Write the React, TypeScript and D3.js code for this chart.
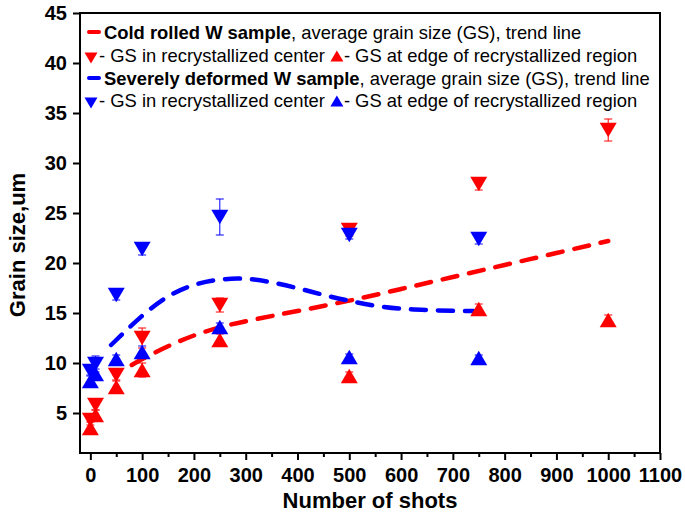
import { useEffect, useRef } from 'react';
import * as d3 from 'd3';

// shots for each series
const shotsRed = [0, 10, 50, 100, 250, 500, 750, 1000];
const shotsBlue = [0, 10, 50, 100, 250, 500, 750];

// cold rolled W sample
const redCenter = [4.3, 5.8, 8.8, 12.5, 15.8, 23.3, 27.9, 33.3];
const redCenterErr = [0.5, 0.5, 0.5, 1.0, 0.7, 0.6, 0.6, 1.1];
const redEdge = [3.5, 4.8, 7.6, 9.3, 12.3, 8.7, 15.4, 14.3];
const redEdgeErr = [0.6, 0.5, 0.6, 0.7, 0.6, 0.4, 0.5, 0.5];

// severely deformed W sample
const blueCenter = [9.2, 9.9, 16.8, 21.4, 24.6, 22.8, 22.4];
const blueCenterErr = [0.5, 0.8, 0.5, 0.6, 1.8, 0.4, 0.5];
const blueEdge = [8.2, 8.9, 10.4, 11.1, 13.6, 10.6, 10.5];
const blueEdgeErr = [0.6, 0.5, 0.4, 0.6, 0.4, 0.3, 0.3];

// trend lines
const redTrendX = [80, 100, 150, 200, 250, 300, 400, 500, 600, 700, 800, 900, 1000];
const redTrendY = [9.8, 10.4, 11.7, 12.8, 13.6, 14.2, 15.2, 16.2, 17.4, 18.6, 19.8, 21.0, 22.2];
const blueTrendX = [40, 100, 150, 200, 250, 300, 350, 400, 450, 500, 550, 600, 650, 700, 740];
const blueTrendY = [11.8, 14.8, 16.8, 17.9, 18.4, 18.5, 18.1, 17.5, 16.8, 16.2, 15.7, 15.4, 15.3, 15.2, 15.2];

const xTicks = [0, 100, 200, 300, 400, 500, 600, 700, 800, 900, 1000, 1100];
const yTicks = [5, 10, 15, 20, 25, 30, 35, 40, 45];

const RED = '#ff0000';
const BLUE = '#0000ff';
const FONT = 'Liberation Sans, Arial, sans-serif';

const App = () => {
  const svgRef = useRef(null);

  useEffect(() => {
    const width = 685;
    const height = 516;
    const margin = { top: 13, right: 25, bottom: 63, left: 80 };

    const svg = d3.select(svgRef.current)
      .attr('width', width)
      .attr('height', height);
    svg.selectAll('*').remove();

    const x = d3.scaleLinear().domain([-20, 1100]).range([margin.left, width - margin.right]);
    const y = d3.scaleLinear().domain([1, 45]).range([height - margin.bottom, margin.top]);

    // frame
    svg.append('rect')
      .attr('x', margin.left).attr('y', margin.top)
      .attr('width', width - margin.right - margin.left)
      .attr('height', height - margin.bottom - margin.top)
      .attr('fill', 'none').attr('stroke', '#000').attr('stroke-width', 2);

    // x axis
    const xAxis = svg.append('g')
      .attr('transform', `translate(0, ${height - margin.bottom})`)
      .call(d3.axisBottom(x).tickValues(xTicks).tickSize(7).tickPadding(8).tickFormat(d3.format('d')));
    svg.append('g')
      .attr('transform', `translate(0, ${height - margin.bottom})`)
      .call(d3.axisBottom(x).tickValues(xTicks.map(d => d + 50).filter(d => d < 1100)).tickSize(4).tickFormat(() => ''))
      .call(g => g.select('.domain').remove())
      .selectAll('line').attr('stroke-width', 2);
    xAxis.select('.domain').remove();
    xAxis.selectAll('line').attr('stroke-width', 2);
    xAxis.selectAll('text')
      .attr('font-family', FONT).attr('font-size', 20).attr('font-weight', 'bold').attr('fill', '#000');

    // y axis
    const yAxis = svg.append('g')
      .attr('transform', `translate(${margin.left}, 0)`)
      .call(d3.axisLeft(y).tickValues(yTicks).tickSize(7).tickPadding(6));
    yAxis.select('.domain').remove();
    yAxis.selectAll('line').attr('stroke-width', 2);
    yAxis.selectAll('text')
      .attr('font-family', FONT).attr('font-size', 20).attr('font-weight', 'bold').attr('fill', '#000');

    // axis titles
    svg.append('text')
      .attr('x', 370).attr('y', 508)
      .attr('text-anchor', 'middle')
      .attr('font-family', FONT).attr('font-size', 22).attr('font-weight', 'bold')
      .text('Number of shots');
    svg.append('text')
      .attr('transform', 'translate(25, 245) rotate(-90)')
      .attr('text-anchor', 'middle')
      .attr('font-family', FONT).attr('font-size', 22).attr('font-weight', 'bold')
      .text('Grain size,um');

    // trend lines
    const line = d3.line().curve(d3.curveBasis);
    const drawTrend = (xs, ys, color) => {
      svg.append('path')
        .attr('d', line(xs.map((d, i) => [x(d), y(ys[i])])))
        .attr('fill', 'none')
        .attr('stroke', color)
        .attr('stroke-width', 4.5)
        .attr('stroke-linecap', 'round')
        .attr('stroke-dasharray', '15 12');
    };
    drawTrend(redTrendX, redTrendY, RED);
    drawTrend(blueTrendX, blueTrendY, BLUE);

    // markers with error bars
    const tri = (cx, cy, s, down) => {
      const h = s * 0.85;
      return down
        ? `M${cx - s / 2},${cy - h / 2}L${cx + s / 2},${cy - h / 2}L${cx},${cy + h / 2}Z`
        : `M${cx - s / 2},${cy + h / 2}L${cx + s / 2},${cy + h / 2}L${cx},${cy - h / 2}Z`;
    };
    const drawSeries = (xs, ys, errs, color, down) => {
      const g = svg.append('g');
      xs.forEach((d, i) => {
        const cx = x(d);
        const top = y(ys[i] + errs[i]);
        const bot = y(ys[i] - errs[i]);
        g.append('line').attr('x1', cx).attr('x2', cx).attr('y1', top).attr('y2', bot)
          .attr('stroke', color).attr('stroke-width', 1);
        [top, bot].forEach(v => {
          g.append('line').attr('x1', cx - 4).attr('x2', cx + 4).attr('y1', v).attr('y2', v)
            .attr('stroke', color).attr('stroke-width', 1);
        });
        g.append('path').attr('d', tri(cx, y(ys[i]), 17, down)).attr('fill', color);
      });
    };
    drawSeries(shotsRed, redCenter, redCenterErr, RED, true);
    drawSeries(shotsRed, redEdge, redEdgeErr, RED, false);
    drawSeries(shotsBlue, blueCenter, blueCenterErr, BLUE, true);
    drawSeries(shotsBlue, blueEdge, blueEdgeErr, BLUE, false);

    // legend
    const legend = svg.append('g').attr('font-family', FONT).attr('font-size', 18.4);
    const rows = [
      { cy: 32, color: RED, bold: 'Cold rolled W sample', rest: ', average grain size (GS), trend line' },
      { cy: 55, color: RED },
      { cy: 78, color: BLUE, bold: 'Severely deformed W sample', rest: ', average grain size (GS), trend line' },
      { cy: 100, color: BLUE },
    ];
    rows.forEach(r => {
      if (r.bold) {
        legend.append('line')
          .attr('x1', 89).attr('x2', 99).attr('y1', r.cy).attr('y2', r.cy)
          .attr('stroke', r.color).attr('stroke-width', 4).attr('stroke-linecap', 'round');
        const t = legend.append('text').attr('x', 104).attr('y', r.cy + 6.5);
        t.append('tspan').attr('font-weight', 'bold').text(r.bold);
        t.append('tspan').text(r.rest);
      } else {
        legend.append('path').attr('d', tri(91, r.cy + 3, 13, true)).attr('fill', r.color);
        const t1 = legend.append('text').attr('x', 99).attr('y', r.cy + 6.5)
          .text('- GS in recrystallized center');
        const w = t1.node().getComputedTextLength() + 5;
        legend.append('path').attr('d', tri(99 + w + 7, r.cy + 1, 13, false)).attr('fill', r.color);
        legend.append('text').attr('x', 99 + w + 14).attr('y', r.cy + 6.5)
          .text('- GS at edge of recrystallized region');
      }
    });
  }, []);

  return <svg ref={svgRef} style={{ position: 'absolute', left: 0, top: 0 }}></svg>;
};

export default App;
